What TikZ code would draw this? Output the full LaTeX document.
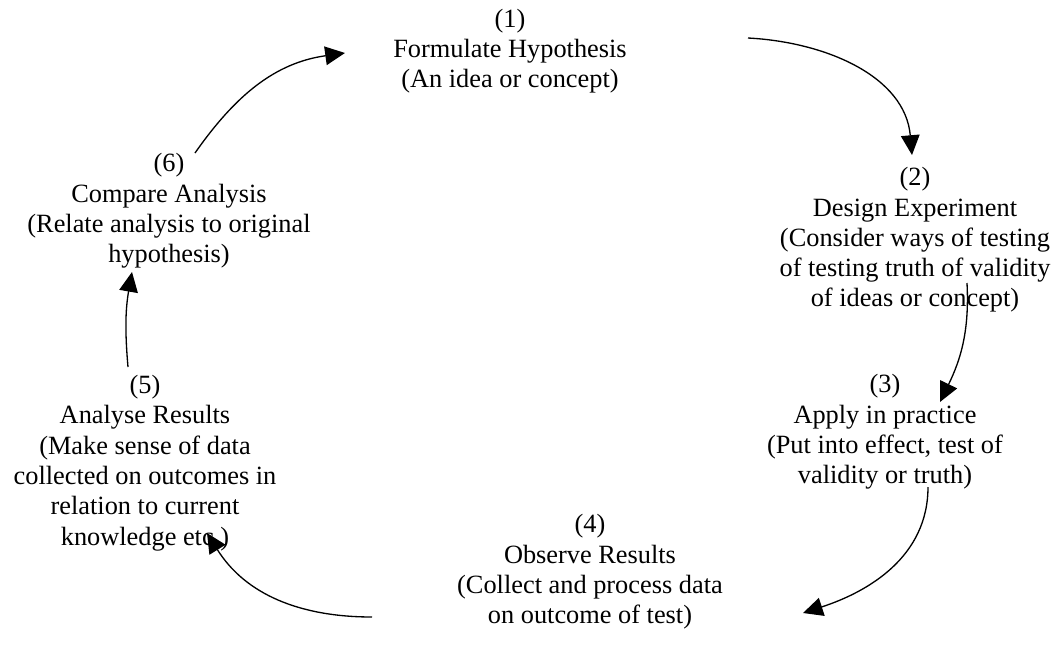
\documentclass[tikz,border=0pt]{standalone}
\usepackage{fontspec}
\setmainfont{Liberation Serif}
\usepackage{tikz}
\usetikzlibrary{arrows.meta, positioning, calc}
\tikzset{
  % Stage text, no frame
  stagetxt/.style={
    align=center, inner sep=1pt,
    font=\fontsize{12}{13.8}\selectfont
  },
  % Cycle arrows
  arr/.style={-{Triangle[length=9pt,width=8.5pt]}, line width=0.6pt, black},
}
\begin{document}
\begin{tikzpicture}[x=0.016cm, y=-0.016cm]
  \useasboundingbox (0,0) rectangle (1063,654);

  %% Stages
  \node[stagetxt] (S1) at (510,51)  {(1)\\Formulate Hypothesis\\(An idea or concept)};
  \node[stagetxt] (S2) at (915,240) {(2)\\Design Experiment\\(Consider ways of testing\\of testing truth of validity\\of ideas or concept)};
  \node[stagetxt] (S3) at (885,432) {(3)\\Apply in practice\\(Put into effect, test of\\validity or truth)};
  \node[stagetxt] (S4) at (590,572) {(4)\\Observe Results\\(Collect and process data\\on outcome of test)};
  \node[stagetxt] (S5) at (145,463) {(5)\\Analyse Results\\(Make sense of data\\collected on outcomes in\\relation to current\\knowledge etc.)};
  \node[stagetxt] (S6) at (169,211) {(6)\\Compare Analysis\\(Relate analysis to original\\hypothesis)};

  %% Arrow ends
  \coordinate (a1) at (748,38);  \coordinate (b2) at (912,155);
  \coordinate (a2) at (967,283); \coordinate (b3) at (940,402);
  \coordinate (a3) at (928,487); \coordinate (b4) at (803,613);
  \coordinate (a4) at (372,617); \coordinate (b5) at (207,533);
  \coordinate (a5) at (128,367); \coordinate (b6) at (132,272);
  \coordinate (a6) at (195,153); \coordinate (b1) at (345,53);

  %% Cycle
  \draw[arr] (a1) to[out=-3, in=95] (b2);
  \draw[arr] (a2) to[out=-87, in=64] (b3);
  \draw[arr] (a3) to[out=-90, in=18] (b4);
  \draw[arr] (a4) to[out=180, in=-58] (b5);
  \draw[arr] (a5) to[out=95, in=-100] (b6);
  \draw[arr] (a6) to[out=55, in=188] (b1);

\end{tikzpicture}
\end{document}
